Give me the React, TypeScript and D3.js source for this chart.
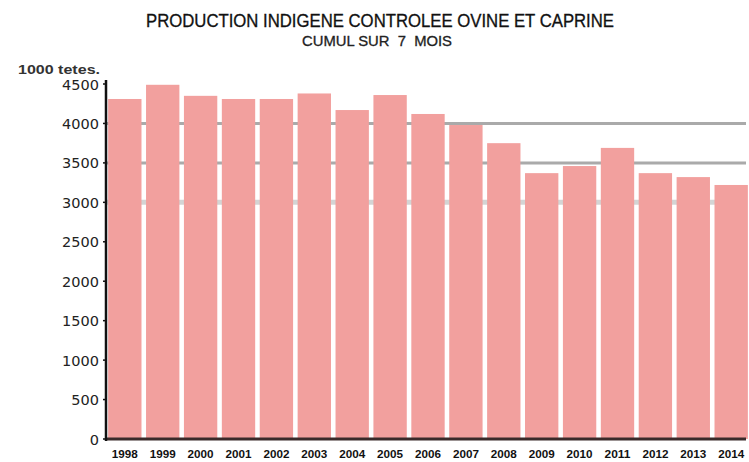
import React from "react";
import * as d3 from "d3";

const years = [
  "1998", "1999", "2000", "2001", "2002", "2003", "2004", "2005", "2006",
  "2007", "2008", "2009", "2010", "2011", "2012", "2013", "2014",
];
const production = [
  4310, 4490, 4350, 4310, 4310, 4380, 4170, 4360, 4120,
  3980, 3750, 3370, 3460, 3690, 3370, 3320, 3220,
];
const yTicks = [0, 500, 1000, 1500, 2000, 2500, 3000, 3500, 4000, 4500];
const darkGrid = [4000, 3500];
const lightGrid = [3000];

const W = 749;
const H = 462;
const axisX = 106;

const App: React.FC = () => {
  const x = d3
    .scaleBand<string>()
    .domain(years)
    .range([107, 749])
    .paddingInner(0.12)
    .paddingOuter(0.03);
  const y = d3.scaleLinear().domain([0, 4500]).range([439, 84]);

  return (
    <svg
      width={W}
      height={H}
      style={{ position: "absolute", left: 0, top: 0, background: "#fff" }}
      fontFamily="Liberation Sans, Arial, sans-serif"
    >
      <text
        x={146}
        y={27}
        fontSize={17.5}
        textLength={468}
        lengthAdjust="spacingAndGlyphs"
        fill="#111"
        stroke="#111"
        strokeWidth={0.3}
      >
        PRODUCTION INDIGENE CONTROLEE OVINE ET CAPRINE
      </text>
      <text
        x={302}
        y={45.5}
        fontSize={14}
        textLength={150}
        lengthAdjust="spacingAndGlyphs"
        fill="#222"
        stroke="#222"
        strokeWidth={0.3}
        style={{ whiteSpace: "pre" }}
      >
        CUMUL SUR  7  MOIS
      </text>
      <text
        x={18}
        y={74}
        fontSize={12.5}
        fontWeight="bold"
        textLength={82}
        lengthAdjust="spacingAndGlyphs"
        fill="#333"
      >
        1000 tetes.
      </text>

      {darkGrid.map((v) => (
        <line key={v} x1={axisX} x2={746} y1={y(v)} y2={y(v)} stroke="#aaa" strokeWidth={3} />
      ))}
      {lightGrid.map((v) => (
        <line key={v} x1={axisX} x2={746} y1={y(v)} y2={y(v)} stroke="#d4d4d4" strokeWidth={5} />
      ))}

      {years.map((yr, i) => (
        <rect
          key={yr}
          x={x(yr)}
          y={y(production[i])}
          width={x.bandwidth()}
          height={y(0) - y(production[i])}
          fill="#f2a09e"
        />
      ))}

      <line x1={axisX} x2={746} y1={439} y2={439} stroke="#3a2a2a" strokeWidth={3} />
      <line x1={axisX} x2={axisX} y1={80} y2={441} stroke="#111" strokeWidth={2.5} />

      {yTicks.map((t) => (
        <g key={t}>
          <line x1={axisX - 3} x2={axisX} y1={y(t)} y2={y(t)} stroke="#111" strokeWidth={1.5} />
          <text
            x={99}
            y={y(t) + 5.5}
            textAnchor="end"
            fontSize={14.5}
            fontFamily="DejaVu Sans, sans-serif"
            fill="#222"
          >
            {t}
          </text>
        </g>
      ))}

      {years.map((yr) => (
        <text
          key={yr}
          x={(x(yr) ?? 0) + x.bandwidth() / 2}
          y={458}
          textAnchor="middle"
          fontSize={11}
          fontWeight="bold"
          textLength={26}
          lengthAdjust="spacingAndGlyphs"
          fill="#111"
        >
          {yr}
        </text>
      ))}
    </svg>
  );
};

export default App;
